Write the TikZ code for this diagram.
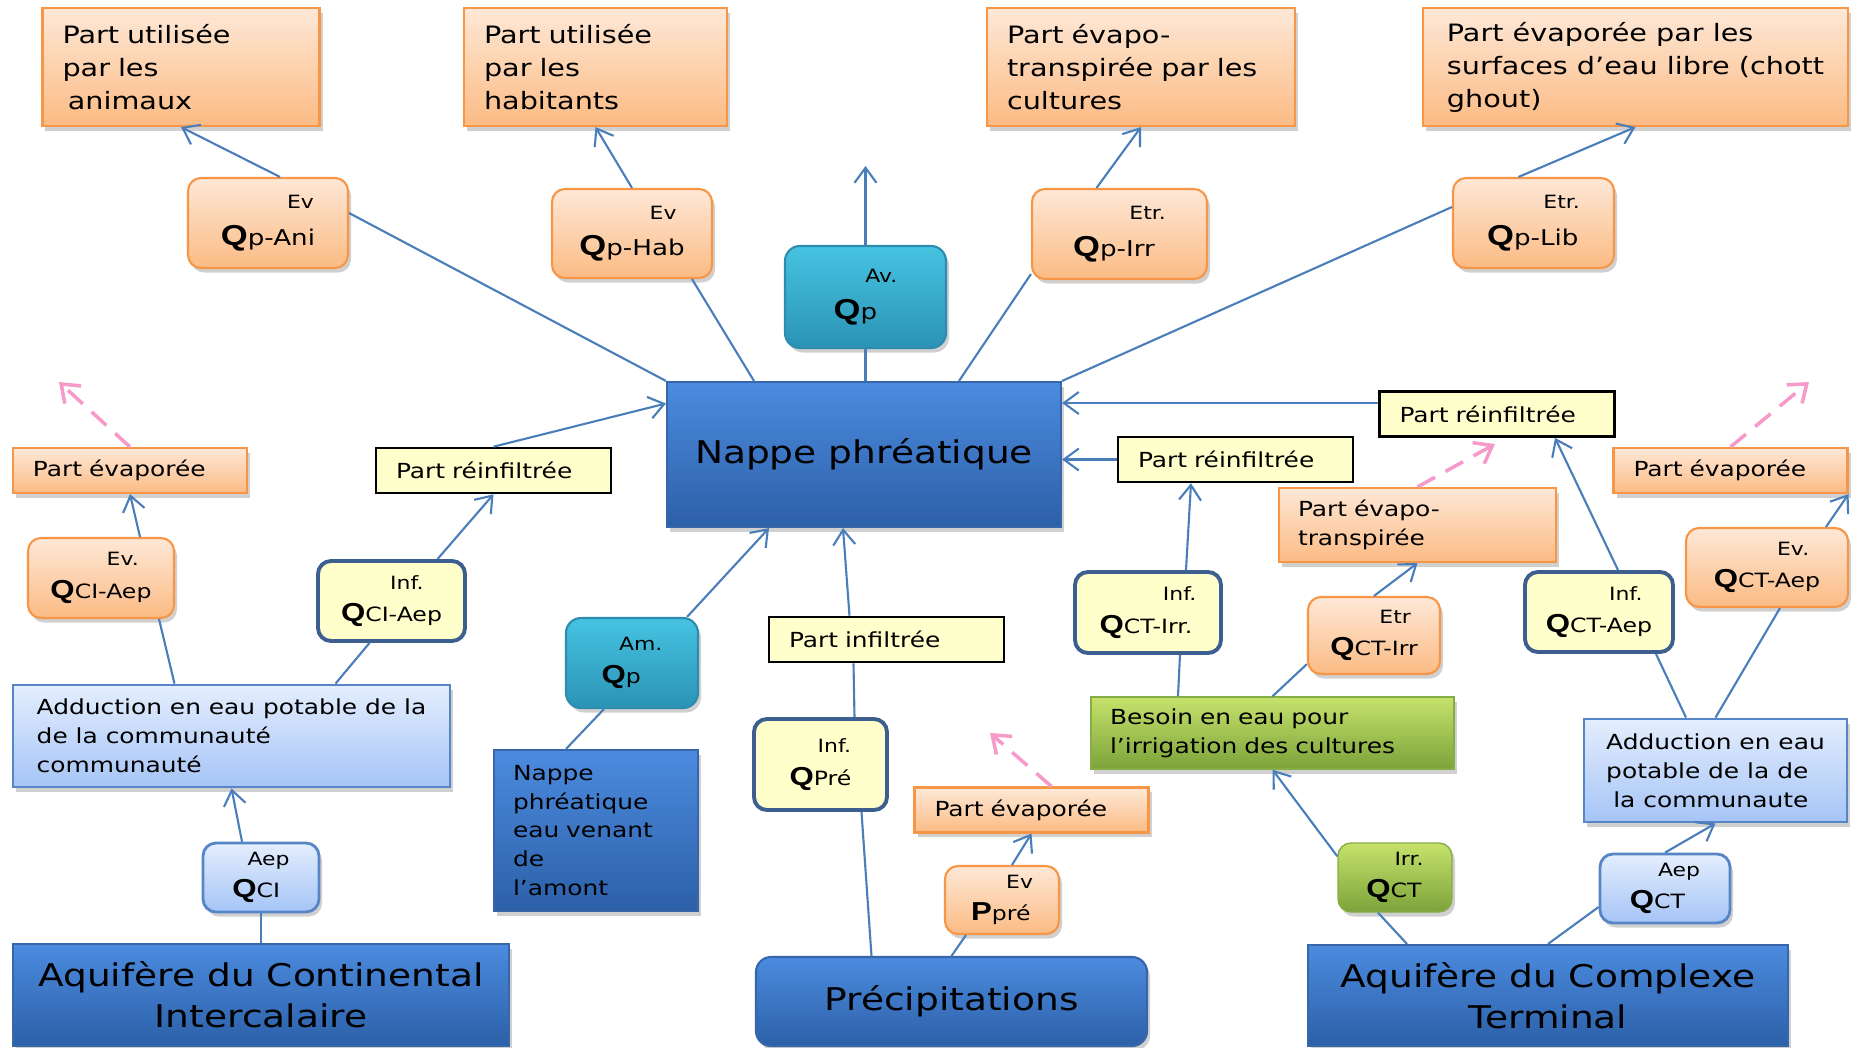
\documentclass[tikz,border=0pt]{standalone}
\usepackage{fontspec}
\setmainfont{DejaVu Sans}[FakeStretch=1.2]
\newfontfamily\qfont{Liberation Sans}[FakeStretch=1.2]
\usetikzlibrary{arrows.meta,shadows}

\definecolor{linkblue}{HTML}{4A7EBB}
\definecolor{pinkdash}{HTML}{F59AC9}
\definecolor{orangeline}{HTML}{F79646}
\definecolor{orangetop}{HTML}{FEE8D7}
\definecolor{orangebot}{HTML}{FBBB84}
\definecolor{tealline}{HTML}{2C8DAE}
\definecolor{tealtop}{HTML}{46C3E1}
\definecolor{tealbot}{HTML}{2B93B5}
\definecolor{blueline}{HTML}{3767AA}
\definecolor{bluetop}{HTML}{4C8BDF}
\definecolor{bluebot}{HTML}{2C60A8}
\definecolor{lblueline}{HTML}{5686C6}
\definecolor{lbluetop}{HTML}{E4EEFD}
\definecolor{lbluebot}{HTML}{A5C4F6}
\definecolor{greenline}{HTML}{86AD46}
\definecolor{greentop}{HTML}{C6E26C}
\definecolor{greenbot}{HTML}{7CA33A}
\definecolor{ylw}{HTML}{FFFFCC}
\definecolor{infblue}{HTML}{3D5F8F}

% flux labels: indent of the top word, top word, bold letter, index
\newcommand{\fl}[4]{\hspace*{#1pt}#2\\[0.6pt]{\qfont\bfseries\fontsize{7.4}{8}\selectfont #3}{\fontsize{5.6}{8}\selectfont #4}}
\newcommand{\flt}[4]{\hspace*{#1pt}#2\\[1.8pt]{\qfont\bfseries\fontsize{8.2}{9}\selectfont #3}{\fontsize{6.2}{9}\selectfont #4}}

\begin{document}
\begin{tikzpicture}[
    topf/.style={font=\fontsize{6.8}{9.4}\selectfont},
    titf/.style={font=\fontsize{8.9}{11.7}\selectfont},
    midf/.style={font=\fontsize{5.9}{8.2}\selectfont},
    lblf/.style={font=\fontsize{5.2}{8.6}\selectfont},
    sz/.style 2 args={minimum width=#1cm, minimum height=#2cm},
    softshadow/.style={drop shadow={shadow xshift=0.03cm, shadow yshift=-0.045cm, opacity=0.3, fill=black!60}},
    link/.style={draw=linkblue, line width=0.6pt},
    arr/.style={link, -{Straight Barb[length=1.5mm,width=2.2mm]}},
    evap/.style={draw=pinkdash, line width=1pt, dash pattern=on 2mm off 1.2mm, -{Straight Barb[length=1.6mm,width=2.4mm]}},
    obox/.style={draw=orangeline, line width=0.6pt, top color=orangetop, bottom color=orangebot, softshadow, inner sep=0pt, inner xsep=0.2cm},
    oround/.style={obox, rounded corners=0.13cm, inner xsep=0pt, lblf, align=left},
    evbox/.style={obox, midf, sz={2.34}{0.45}, text width=1.94cm, align=left},
    reinf/.style={draw=black, line width=0.75pt, fill=ylw, inner sep=0pt, inner xsep=0.2cm, midf, sz={2.35}{0.45}, text width=1.95cm, align=left},
    yinf/.style={draw=infblue, line width=1.1pt, fill=ylw, rounded corners=0.13cm, inner sep=0pt, lblf, align=left},
    tbox/.style={draw=tealline, line width=0.6pt, top color=tealtop, bottom color=tealbot, softshadow, rounded corners=0.15cm, inner sep=0pt, lblf, align=left},
    bbox/.style={draw=blueline, line width=0.6pt, top color=bluetop, bottom color=bluebot, softshadow, inner sep=0pt, titf, align=center},
    lbox/.style={draw=lblueline, line width=0.8pt, top color=lbluetop, bottom color=lbluebot, softshadow, inner sep=0pt, midf, align=left},
    lround/.style={lbox, rounded corners=0.13cm, lblf, align=left},
    gbox/.style={draw=greenline, line width=0.4pt, top color=greentop, bottom color=greenbot, softshadow, inner sep=0pt, inner xsep=0.19cm, midf, align=left},
    ground/.style={gbox, rounded corners=0.13cm, inner xsep=0pt, lblf, align=left}
]
    \fill[white] (0,0) rectangle (18.52,-10.47);
    \useasboundingbox (0,0) rectangle (18.52,-10.47);

    % Nappe phreatique in the middle
    \node[bbox, sz={3.94}{1.45}] (np) at (8.64,-4.545) {Nappe phréatique};

    % Top row: where the water goes
    \node[obox, topf, sz={2.77}{1.18}, text width=2.37cm, align=left] (ani) at (1.81,-0.67) {Part utilisée\\par les\\\hspace*{1.5pt}animaux};
    \node[obox, topf, sz={2.63}{1.18}, text width=2.23cm, align=left] (hab) at (5.955,-0.67) {Part utilisée\\par les\\habitants};
    \node[obox, topf, sz={3.08}{1.18}, text width=2.68cm, align=left] (cul) at (11.41,-0.67) {Part évapo-\\transpirée par les\\cultures};
    \node[obox, topf, sz={4.25}{1.18}, align=left] (lib) at (16.355,-0.67) {Part évaporée par les\\surfaces d’eau libre (chott\\ghout)};

    \node[oround, sz={1.60}{0.90}] (qani) at (2.68,-2.23) {\flt{18.8}{Ev}{Q}{p-Ani}};
    \node[oround, sz={1.60}{0.89}] (qhab) at (6.32,-2.335) {\flt{20}{Ev}{Q}{p-Hab}};
    \node[tbox, sz={1.61}{1.02}] (avq) at (8.655,-2.97) {\flt{9}{Av.}{Q}{p}};
    \node[oround, sz={1.75}{0.90}] (qirr) at (11.195,-2.34) {\flt{16}{Etr.}{Q}{p-Irr}};
    \node[oround, sz={1.61}{0.90}] (qlib) at (15.335,-2.23) {\flt{16}{Etr.}{Q}{p-Lib}};
    \coordinate (avout) at (8.655,-1.66);

    % Left side: Continental Intercalaire
    \node[evbox] (evl) at (1.30,-4.705) {Part évaporée};
    \coordinate (evlout) at (0.59,-3.82);
    \node[oround, sz={1.46}{0.80}] (qciev) at (1.01,-5.78) {\fl{16}{Ev.}{Q}{CI-Aep}};
    \node[reinf] (reil) at (4.935,-4.705) {Part réinfiltrée};
    \node[yinf, sz={1.47}{0.80}] (qciinf) at (3.915,-6.01) {\fl{14}{Inf.}{Q}{CI-Aep}};
    \node[lbox, sz={4.37}{1.02}] (aepci) at (2.315,-7.36) {Adduction en eau potable de la\\de la communauté\\communauté};
    \node[tbox, sz={1.32}{0.90}] (amq) at (6.32,-6.63) {\fl{5}{Am.}{Q}{p}};
    \node[bbox, midf, sz={2.04}{1.61}, text width=1.66cm, inner xsep=0.19cm, align=left] (namont) at (5.96,-8.305) {Nappe\\phréatique\\eau venant\\de\\l’amont};
    \node[lround, sz={1.16}{0.69}] (qciaep) at (2.61,-8.775) {\fl{4.3}{Aep}{Q}{CI}};
    \node[bbox, sz={4.96}{1.02}] (aqci) at (2.61,-9.95) {Aquifère du Continental\\Intercalaire};

    % Middle: precipitations
    \node[reinf] (pinf) at (8.865,-6.395) {Part infiltrée};
    \node[yinf, sz={1.33}{0.91}] (qpre) at (8.205,-7.645) {\fl{8}{Inf.}{Q}{Pré}};
    \node[bbox, rounded corners=0.15cm, sz={3.91}{0.89}] (prec) at (9.515,-10.015) {Précipitations};
    \node[evbox] (evp) at (10.315,-8.10) {Part évaporée};
    \coordinate (evpout) at (9.90,-7.33);
    \node[oround, sz={1.14}{0.68}] (ppre) at (10.02,-9.00) {\fl{10}{Ev}{P}{pré}};

    % Right side: Complexe Terminal
    \node[reinf] (reir1) at (14.97,-4.14) {Part réinfiltrée};
    \node[reinf] (reir2) at (12.355,-4.595) {Part réinfiltrée};
    \node[obox, midf, sz={2.77}{0.74}, text width=2.39cm, inner xsep=0.19cm, align=left] (etp) at (14.175,-5.25) {Part évapo-\\transpirée};
    \coordinate (etpout) at (14.95,-4.44);
    \node[yinf, sz={1.46}{0.81}] (qctirr) at (11.48,-6.125) {\fl{18}{Inf.}{Q}{CT-Irr.}};
    \node[oround, sz={1.32}{0.77}] (qctetr) at (13.74,-6.355) {\fl{14}{Etr}{Q}{CT-Irr}};
    \node[gbox, sz={3.63}{0.72}, text width=3.25cm] (besoin) at (12.725,-7.33) {Besoin en eau pour\\l’irrigation des cultures};
    \node[ground, sz={1.14}{0.69}] (qctirrg) at (13.95,-8.775) {\fl{8}{Irr.}{Q}{CT}};
    \node[bbox, sz={4.80}{1.01}] (aqct) at (15.48,-9.955) {Aquifère du Complexe\\Terminal};
    \node[yinf, sz={1.48}{0.80}] (qctaepinf) at (15.99,-6.12) {\fl{18}{Inf.}{Q}{CT-Aep}};
    \node[evbox] (evr) at (17.305,-4.705) {Part évaporée};
    \coordinate (evrout) at (18.09,-3.82);
    \node[oround, sz={1.62}{0.79}] (qctaepev) at (17.67,-5.675) {\fl{18}{Ev.}{Q}{CT-Aep}};
    \node[lbox, sz={2.63}{1.03}] (aepct) at (17.155,-7.705) {Adduction en eau\\potable de la de\\\hspace*{2pt}la communaute};
    \node[lround, sz={1.30}{0.69}] (qctaep) at (16.65,-8.885) {\fl{8}{Aep}{Q}{CT}};

    % Connections, top
    \draw[arr] ([xshift=0.12cm]qani.north) -- (ani.south);
    \draw[link] ([yshift=0.1cm]qani.east) -- (np.north west);
    \draw[arr] (qhab.north) -- (hab.south);
    \draw[link] ([xshift=0.6cm]qhab.south) -- ([xshift=-1.1cm]np.north);
    \draw[arr] (avq.north) -- (avout);
    \draw[link] (avq.south) -- (avq.south |- np.north);
    \draw[arr] ([xshift=-0.23cm]qirr.north) -- (cul.south);
    \draw[link] ([yshift=0.06cm]qirr.south west) -- ([xshift=0.95cm]np.north);
    \draw[arr] ([xshift=-0.15cm]qlib.north) -- (lib.south);
    \draw[link] ([yshift=0.16cm]qlib.west) -- (np.north east);

    % Connections, left
    \draw[evap] (evl.north) -- (evlout);
    \draw[arr] ([xshift=0.39cm]qciev.north) -- (evl.south);
    \draw[arr] (reil.north) -- ([yshift=0.51cm]np.west);
    \draw[arr] ([xshift=0.46cm]qciinf.north) -- (reil.south);
    \draw[link] ([xshift=-0.57cm]aepci.north) -- ([xshift=0.58cm]qciev.south);
    \draw[link] ([xshift=1.04cm]aepci.north) -- ([xshift=-0.22cm]qciinf.south);
    \draw[arr] ([xshift=-0.12cm]amq.north east) -- ([xshift=-0.95cm]np.south);
    \draw[link] ([xshift=-0.28cm]amq.south) -- ([xshift=-0.3cm]namont.north);
    \draw[arr] ([xshift=-0.19cm]qciaep.north) -- (aepci.south);
    \draw[link] (qciaep.south) -- (aqci.north);

    % Connections, middle
    \draw[arr] ([xshift=-0.37cm]pinf.north) -- ([xshift=-0.21cm]np.south);
    \draw[link] ([xshift=0.34cm]qpre.north) -- ([xshift=-0.33cm]pinf.south);
    \draw[link] ([xshift=0.41cm]qpre.south) -- ([xshift=-0.8cm]prec.north);
    \draw[evap] ([xshift=0.2cm]evp.north) -- (evpout);
    \draw[arr] ([xshift=0.1cm]ppre.north) -- (evp.south);
    \draw[link] (prec.north) -- ([xshift=-0.36cm]ppre.south);

    % Connections, right
    \draw[arr] ([yshift=0.11cm]reir1.west) -- ([yshift=0.515cm]np.east);
    \draw[arr] (reir2.west) -- (reir2.west -| np.east);
    \draw[evap] (etp.north) -- (etpout);
    \draw[arr] ([xshift=0.38cm]qctirr.north) -- ([xshift=-0.445cm]reir2.south);
    \draw[arr] (qctetr.north) -- (etp.south);
    \draw[link] ([xshift=-0.945cm]besoin.north) -- ([xshift=0.32cm]qctirr.south);
    \draw[link] (besoin.north) -- ([yshift=0.11cm]qctetr.south west);
    \draw[arr] ([yshift=-0.14cm]qctirrg.north west) -- (besoin.south);
    \draw[link] ([xshift=-0.17cm]qctirrg.south) -- ([xshift=-1.41cm]aqct.north);
    \draw[arr] ([xshift=0.19cm]qctaepinf.north) -- ([xshift=0.58cm]reir1.south);
    \draw[evap] (evr.north) -- (evrout);
    \draw[arr] ([xshift=0.59cm]qctaepev.north) -- (evr.south east);
    \draw[link] ([xshift=-0.295cm]aepct.north) -- ([xshift=0.57cm]qctaepinf.south);
    \draw[link] (aepct.north) -- ([xshift=0.13cm]qctaepev.south);
    \draw[arr] (qctaep.north) -- (aepct.south);
    \draw[link] (aqct.north) -- ([yshift=-0.185cm]qctaep.west);
\end{tikzpicture}
\end{document}
